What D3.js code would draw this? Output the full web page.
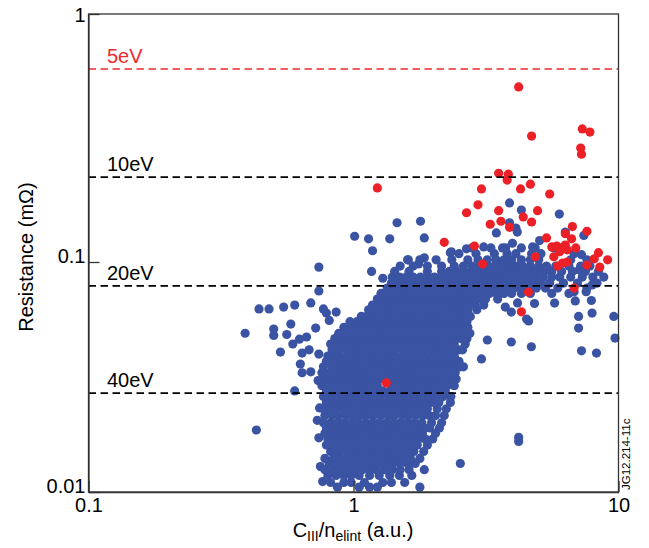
<!DOCTYPE html>
<html><head><meta charset="utf-8">
<script src="https://cdn.jsdelivr.net/npm/d3@7"></script>
<style>
html,body{margin:0;padding:0;background:#fff;}
svg{display:block;font-family:"Liberation Sans",Arial,Helvetica,sans-serif;}
</style></head>
<body>
<svg id="chart" width="649" height="548"></svg>
<script>
// ---- data ----
const xTicks = [0.1, 1, 10];
const yTicks = [0.01, 0.1, 1];
const levelNames = ["5eV", "10eV", "20eV", "40eV"];
const levelValues = [0.6, 0.22, 0.0787, 0.0269];
const levelColors = ["#ee2a2f", "#000", "#000", "#000"];

// red points [x, y]
const redPoints = [
 [4.2,0.508],[4.7,0.322],[7.3,0.344],[7.8,0.334],[7.2,0.288],[7.25,0.272],
 [3.53,0.228],[3.84,0.226],[3.8,0.214],[4.65,0.206],[4.27,0.197],[3.04,0.197],[5.5,0.188],
 [2.95,0.17],[2.67,0.158],[3.53,0.161],[4.95,0.161],[4.37,0.152],[4.7,0.145],[3.6,0.146],[3.28,0.142],[3.88,0.138],
 [6.7,0.139],[7.6,0.133],[6.3,0.13],[5.35,0.125],[6.65,0.124],[2.2,0.12],[2.86,0.116],
 [5.6,0.115],[5.85,0.116],[6.1,0.114],[6.3,0.117],[6.0,0.11],[6.4,0.112],[6.9,0.114],
 [5.7,0.105],[4.85,0.105],[8.4,0.109],[8.1,0.103],[9.1,0.102],[8.5,0.095],[7.6,0.097],
 [5.9,0.096],[6.15,0.099],[6.4,0.1],[3.07,0.098],[6.8,0.077],[4.57,0.074],[4.3,0.0607],
 [1.23,0.199],[1.33,0.0298]
];

// blue scattered points [x, y]
const blueScatter = [
 [1.46,0.144],[1.79,0.146],[1.01,0.127],[1.14,0.124],[1.37,0.124],[1.85,0.125],[1.18,0.111],[2.32,0.109],[2.67,0.113],
 [1.61,0.102],[1.76,0.098],[1.85,0.104],[0.74,0.095],[1.17,0.091],[1.29,0.085],[0.74,0.0748],
 [0.44,0.0625],[0.48,0.0625],[0.545,0.0637],[0.6,0.065],[0.69,0.0664],[0.77,0.0625],[0.86,0.0606],
 [0.39,0.049],[0.5,0.0511],[0.5,0.0479],[0.56,0.0484],[0.58,0.0537],[0.59,0.044],[0.625,0.0462],[0.665,0.0472],[0.72,0.0516],
 [0.53,0.0406],[0.64,0.0402],[0.68,0.0415],[0.74,0.0398],[0.63,0.036],[0.64,0.033],[0.69,0.0333],[0.6,0.0275],[0.79,0.06],[0.81,0.0557],
 [0.43,0.0186],[4.2,0.0173],[4.2,0.0166],
 [0.735,0.0305],[0.745,0.0232],[0.74,0.0172],[0.75,0.0129],[0.765,0.0111],[0.73,0.0205],
 [3.88,0.173],[4.3,0.162],[5.98,0.156],[3.46,0.131],[4.1,0.137],[4.15,0.132],[3.88,0.144],[6.3,0.132],[7.4,0.128],
 [2.34,0.11],[3.1,0.115],[3.65,0.114],[3.98,0.119],[4.74,0.115],[5.04,0.122],[7.25,0.107],[7.1,0.0923],[7.95,0.0795],
 [6.8,0.0743],[6.87,0.0677],[7.55,0.0743],[7.9,0.068],[7.95,0.06],[7.07,0.058],[7.07,0.0516],
 [5.74,0.0663],[4.82,0.066],[4.16,0.0664],[3.74,0.0637],[3.94,0.0606],[4.5,0.0565],[4.58,0.0554],[3.2,0.0458],
 [3.94,0.0449],[4.69,0.0428],[7.25,0.0411],[8.26,0.0402],[9.6,0.058],[9.7,0.0467],[3.04,0.0379],[2.26,0.0402]
];

// blue dense cloud, read row by row: [y, [x values]]
const blueRows = [
 [0.0105,[0.87,1.05,1.15,1.23,1.78]],
 [0.011,[0.82,0.92,0.98,1.1,1.29,1.39,1.56]],
 [0.0118,[0.8,0.86,0.92,0.98,1.05,1.15,1.25,1.37,1.49,1.66]],
 [0.0125,[0.78,0.84,0.9,0.96,1.02,1.08,1.15,1.22,1.31,1.4,1.5,1.62,1.85]],
 [0.0133,[0.81,0.87,0.92,0.98,1.04,1.11,1.18,1.25,1.33,1.41,1.5,1.6,1.71,2.53]],
 [0.014,[0.78,0.84,0.89,0.95,1.01,1.07,1.14,1.21,1.29,1.37,1.45,1.54,1.64,1.78]],
 [0.015,[0.82,0.87,0.93,0.99,1.05,1.11,1.18,1.25,1.33,1.41,1.5,1.59,1.69,1.84]],
 [0.016,[0.79,0.84,0.89,0.95,1.01,1.07,1.14,1.21,1.29,1.37,1.45,1.54,1.64,1.74,1.9]],
 [0.017,[0.8,0.85,0.9,0.96,1.02,1.08,1.15,1.22,1.3,1.38,1.47,1.56,1.66,1.76,1.87,1.99]],
 [0.018,[0.78,0.83,0.88,0.93,0.99,1.05,1.12,1.19,1.26,1.34,1.43,1.52,1.61,1.71,1.82,2.04]],
 [0.019,[0.79,0.84,0.89,0.95,1.01,1.07,1.14,1.21,1.29,1.37,1.45,1.54,1.64,1.74,1.85,1.94,2.11]],
 [0.02,[0.77,0.82,0.87,0.92,0.98,1.04,1.11,1.18,1.25,1.33,1.41,1.5,1.6,1.7,1.81,1.97,2.15]],
 [0.0215,[0.78,0.83,0.88,0.94,1.0,1.06,1.12,1.19,1.27,1.35,1.43,1.53,1.62,1.72,1.83,1.93,2.04,2.2]],
 [0.023,[0.77,0.81,0.86,0.92,0.97,1.04,1.1,1.17,1.24,1.32,1.4,1.49,1.58,1.68,1.79,1.9,2.07,2.24]],
 [0.0245,[0.79,0.84,0.89,0.95,1.01,1.07,1.14,1.21,1.29,1.37,1.45,1.54,1.64,1.74,1.85,1.97,2.1,2.32]],
 [0.026,[0.77,0.82,0.87,0.92,0.98,1.04,1.11,1.18,1.25,1.33,1.41,1.5,1.6,1.7,1.81,1.92,2.04,2.18,2.33]],
 [0.0275,[0.79,0.84,0.89,0.95,1.01,1.07,1.14,1.21,1.29,1.37,1.45,1.54,1.64,1.74,1.85,1.97,2.1,2.22]],
 [0.029,[0.76,0.81,0.86,0.91,0.97,1.03,1.09,1.16,1.23,1.39,1.48,1.57,1.67,1.77,1.88,2.0,2.12,2.26,2.4]],
 [0.031,[0.78,0.83,0.88,0.94,1.0,1.06,1.12,1.19,1.27,1.35,1.43,1.52,1.61,1.71,1.82,1.93,2.05,2.18,2.32,2.44]],
 [0.033,[0.76,0.81,0.86,0.91,0.97,1.03,1.09,1.16,1.23,1.31,1.39,1.48,1.57,1.67,1.77,1.88,2.0,2.12,2.26,2.42]],
 [0.035,[0.77,0.83,0.89,0.95,1.01,1.07,1.14,1.21,1.29,1.37,1.45,1.54,1.64,1.74,1.85,1.97,2.1,2.24,2.38,2.53,2.6]],
 [0.037,[0.79,0.85,0.91,0.97,1.03,1.09,1.16,1.23,1.31,1.39,1.48,1.57,1.67,1.77,1.88,2.0,2.12,2.26,2.4,2.5]],
 [0.039,[0.8,0.84,0.89,0.95,1.01,1.07,1.14,1.21,1.29,1.37,1.45,1.54,1.64,1.74,1.85,1.97,2.1,2.24,2.4]],
 [0.0415,[0.83,0.88,0.94,1.0,1.06,1.12,1.19,1.27,1.35,1.43,1.53,1.62,1.72,1.83,1.95,2.07,2.2,2.35,2.5,2.58]],
 [0.044,[0.82,0.86,0.91,0.97,1.03,1.09,1.16,1.23,1.31,1.39,1.48,1.57,1.67,1.77,1.88,2.0,2.12,2.26,2.4,2.64]],
 [0.0465,[0.85,0.9,0.96,1.02,1.08,1.15,1.22,1.3,1.38,1.47,1.56,1.66,1.76,1.87,1.99,2.11,2.25,2.39,2.54,2.68]],
 [0.049,[0.88,0.94,1.0,1.06,1.12,1.19,1.27,1.35,1.43,1.53,1.62,1.72,1.83,1.95,2.07,2.2,2.35,2.5,2.62,2.75]],
 [0.052,[0.92,0.97,1.02,1.07,1.14,1.21,1.29,1.37,1.45,1.54,1.64,1.74,1.85,1.97,2.1,2.24,2.38,2.53,2.7]],
 [0.055,[0.97,1.03,1.1,1.17,1.24,1.31,1.39,1.48,1.57,1.67,1.77,1.88,2.0,2.12,2.26,2.4,2.56,2.68]],
 [0.058,[1.07,1.12,1.18,1.25,1.33,1.41,1.5,1.6,1.7,1.81,1.92,2.04,2.17,2.31,2.46,2.62,2.76]],
 [0.062,[1.14,1.21,1.29,1.37,1.45,1.54,1.64,1.74,1.85,1.97,2.1,2.24,2.38,2.53,2.7,2.92]],
 [0.065,[1.18,1.24,1.31,1.38,1.45,1.54,1.64,1.74,1.85,1.97,2.1,2.24,2.38,2.53,2.7,2.88,3.1]],
 [0.069,[1.23,1.3,1.37,1.44,1.52,1.6,1.68,1.79,1.9,2.02,2.15,2.28,2.43,2.6,2.76,2.94,3.15,3.5]],
 [0.073,[1.27,1.34,1.42,1.5,1.58,1.66,1.76,1.87,1.99,2.11,2.25,2.39,2.54,2.7,2.88,3.06,3.26,3.47,3.7,3.95,4.3,4.65,5.6,6.5]],
 [0.077,[1.34,1.42,1.51,1.61,1.71,1.82,1.94,2.06,2.19,2.33,2.48,2.64,2.8,2.98,3.17,3.37,3.58,3.8,4.05,4.3,4.6,4.9,5.3,5.9,7.6]],
 [0.081,[1.39,1.48,1.57,1.67,1.77,1.88,2.0,2.12,2.26,2.4,2.56,2.72,2.9,3.08,3.28,3.49,3.72,3.96,4.2,4.5,4.8,5.1,5.5,6.2,7.0,8.3]],
 [0.086,[1.4,1.49,1.58,1.68,1.79,1.9,2.02,2.15,2.28,2.43,2.59,2.76,2.94,3.13,3.33,3.54,3.77,4.0,4.27,4.55,4.85,5.2,5.6,6.0,6.6,7.3,8.0,8.8]],
 [0.091,[1.43,1.62,1.9,2.15,2.3,2.45,2.62,2.8,2.98,3.17,3.37,3.58,3.8,4.05,4.3,4.6,4.9,5.25,5.6,6.1,6.7,7.5,8.4]],
 [0.096,[1.5,1.68,1.9,2.15,2.4,2.6,2.8,3.0,3.2,3.4,3.6,3.85,4.1,4.35,4.65,5.0,5.35,5.8,6.5,7.2,7.8]],
 [0.102,[1.6,1.78,2.05,2.35,2.7,2.95,3.2,3.45,3.7,3.95,4.3,4.65,5.0,6.6,7.6]],
 [0.108,[2.5,2.9,3.4,3.8,4.1,4.7,5.1,6.8]],
 [0.114,[2.8,3.3,3.75,4.3,4.85,5.7]]
];

// ---- drawing ----
const blueColor = "#3a53a3";
const redColor = "#ec2027";
const R = 4.6;

const svg = d3.select("#chart");
const x = d3.scaleLog().domain([0.1, 10]).range([88.5, 618.5]);
const y = d3.scaleLog().domain([0.01, 0.1, 1]).range([492, 262, 14]);

const bluePoints = blueScatter.concat(...blueRows.map(([yy, xs]) => xs.map(xx => [xx, yy])));

// points
svg.append("g").selectAll("circle").data(bluePoints).join("circle")
  .attr("cx", d => x(d[0])).attr("cy", d => y(d[1])).attr("r", R).attr("fill", blueColor);
svg.append("g").selectAll("circle").data(redPoints).join("circle")
  .attr("cx", d => x(d[0])).attr("cy", d => y(d[1])).attr("r", R).attr("fill", redColor);

// dashed temperature lines
const lv = svg.append("g");
levelValues.forEach((v, i) => {
  lv.append("line").attr("x1", x(0.1)).attr("x2", x(10)).attr("y1", y(v)).attr("y2", y(v))
    .attr("stroke", levelColors[i]).attr("stroke-width", i === 0 ? 1.3 : 1.8)
    .attr("stroke-dasharray", "7.5,4.5");
  lv.append("text").attr("x", 107).attr("y", y(v) - 6).text(levelNames[i])
    .attr("fill", levelColors[i]).attr("font-size", 20);
});

// frame
svg.append("rect").attr("x", x(0.1)).attr("y", y(1)).attr("width", x(10) - x(0.1)).attr("height", y(0.01) - y(1))
  .attr("fill", "none").attr("stroke", "#333").attr("stroke-width", 1.3);

// axes
const fmt = d3.format("~g");
const gx = svg.append("g").attr("transform", `translate(0,${y(0.01)})`)
  .call(d3.axisBottom(x).tickValues(xTicks).tickFormat(fmt).tickSizeInner(-11).tickSizeOuter(0).tickPadding(7));
gx.select(".domain").attr("stroke", "#333").attr("stroke-width", 1.3);
gx.selectAll(".tick line").attr("stroke", "#333").attr("stroke-width", 1.3);
gx.selectAll(".tick text").attr("font-size", 20).attr("fill", "#000").attr("font-family", "Liberation Sans, Arial, sans-serif")
  .attr("y", 0).attr("dy", 20);

const gy = svg.append("g").attr("transform", `translate(${x(0.1)},0)`)
  .call(d3.axisLeft(y).tickValues(yTicks).tickFormat(fmt).tickSizeInner(-11).tickSizeOuter(0).tickPadding(4));
gy.select(".domain").attr("stroke", "#333").attr("stroke-width", 1.3);
gy.selectAll(".tick line").attr("stroke", "#333").attr("stroke-width", 1.3);
gy.selectAll(".tick text").attr("font-size", 20).attr("fill", "#000").attr("font-family", "Liberation Sans, Arial, sans-serif")
  .attr("x", -3).attr("dy", d => d === 1 ? "0.35em" : "0.02em");

// axis titles
svg.append("text").attr("transform", "translate(33,257) rotate(-90)").attr("text-anchor", "middle")
  .attr("font-size", 20).text("Resistance (mΩ)");

const xt = svg.append("text").attr("x", 353).attr("y", 537).attr("text-anchor", "middle").attr("font-size", 20);
xt.append("tspan").text("C");
xt.append("tspan").attr("font-size", 14).attr("dy", 4).text("III");
xt.append("tspan").attr("dy", -4).text("/n");
xt.append("tspan").attr("font-size", 14).attr("dy", 4).text("elint");
xt.append("tspan").attr("dy", -4).text(" (a.u.)");

// figure id
svg.append("text").attr("transform", "translate(630,490) rotate(-90)").attr("font-size", 11.5).text("JG12.214-11c");
</script>
</body></html>
